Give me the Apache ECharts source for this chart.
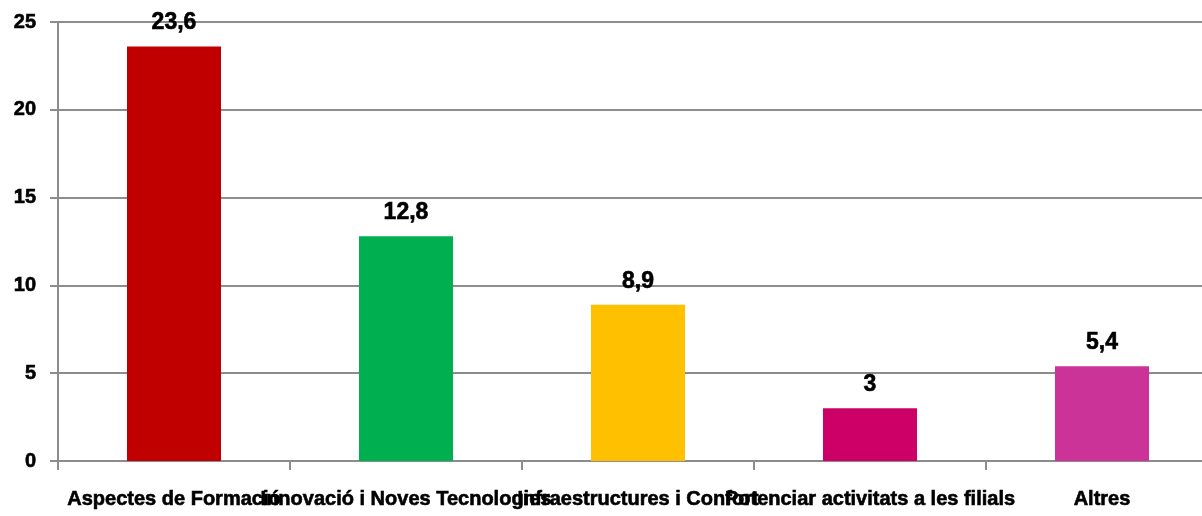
<!DOCTYPE html>
<html>
<head>
<meta charset="utf-8">
<script src="https://cdn.jsdelivr.net/npm/echarts@6/dist/echarts.min.js"></script>
<style>
  html, body { margin: 0; padding: 0; background: #ffffff; overflow: hidden; }
  /* the plot runs slightly past the right edge of the window */
  #chart { width: 1218px; height: 516px; }
</style>
</head>
<body>
<div id="chart"></div>
<script>
// Categories and values
const categories = [
  'Aspectes de Formació',
  'Innovació i Noves Tecnologies',
  'Infraestructures i Confort',
  'Potenciar activitats a les filials',
  'Altres'
];
const values = [23.6, 12.8, 8.9, 3, 5.4];
const barColors = ['#C00000', '#00B050', '#FFC000', '#CC0066', '#CC3399'];
const yTicks = { min: 0, max: 25, interval: 5 };

const gridGray = '#8c8c8c';
const font = '"Liberation Sans", Arial, sans-serif';

// heavy black text used for all labels
const heavyText = (size) => ({
  color: '#000000',
  fontFamily: font,
  fontWeight: 'bold',
  fontSize: size,
  textBorderColor: '#000000',
  textBorderWidth: 0.6
});

const chart = echarts.init(document.getElementById('chart'), null, { renderer: 'canvas' });

chart.setOption({
  animation: false,
  backgroundColor: '#ffffff',
  grid: { left: 58, right: 0, top: 22, bottom: 55, containLabel: false },
  xAxis: {
    type: 'category',
    data: categories,
    boundaryGap: true,
    axisLine: { lineStyle: { color: gridGray, width: 2 } },
    axisTick: { show: true, alignWithLabel: false, length: 9, lineStyle: { color: gridGray, width: 2 } },
    axisLabel: Object.assign({ interval: 0, hideOverlap: false, margin: 28 }, heavyText(20)),
    splitLine: { show: false }
  },
  yAxis: {
    type: 'value',
    min: yTicks.min,
    max: yTicks.max,
    interval: yTicks.interval,
    axisLine: { show: true, lineStyle: { color: gridGray, width: 2 } },
    axisTick: { show: true, length: 8, lineStyle: { color: gridGray, width: 2 } },
    axisLabel: Object.assign({ margin: 22 }, heavyText(20)),
    splitLine: { show: true, lineStyle: { color: gridGray, width: 2 } }
  },
  series: [{
    type: 'bar',
    barWidth: 94,
    data: values.map((v, i) => ({ value: v, itemStyle: { color: barColors[i] } })),
    label: Object.assign({
      show: true,
      position: 'top',
      distance: 12,
      formatter: p => String(p.value).replace('.', ',')
    }, heavyText(23))
  }]
});
</script>
</body>
</html>
